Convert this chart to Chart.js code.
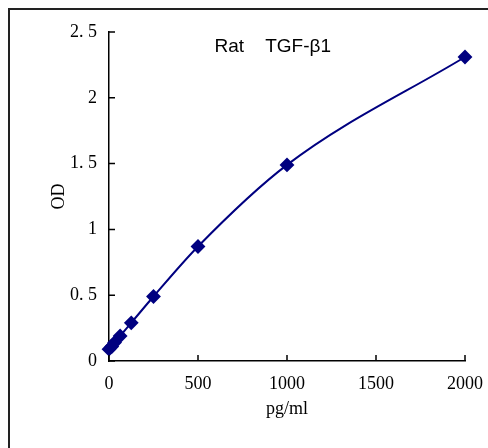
<!DOCTYPE html>
<html><head><meta charset="utf-8">
<script src="https://cdn.jsdelivr.net/npm/chart.js@4/dist/chart.umd.min.js"></script>
<style>
html,body{margin:0;padding:0;background:#fff;}
#wrap{position:relative;width:488px;height:448px;}
#frame{position:absolute;left:8px;top:8px;width:500px;height:460px;border-left:2px solid #222;border-top:2px solid #222;box-sizing:border-box;pointer-events:none;}
canvas{position:absolute;left:0;top:0;}
</style></head>
<body><div id="wrap"><canvas id="c" width="488" height="448"></canvas><div id="frame"></div></div>
<script>
const concentrations = [0, 15.6, 31.25, 62.5, 125, 250, 500, 1000, 2000];
const odValues = [0.09, 0.11, 0.14, 0.19, 0.29, 0.49, 0.87, 1.49, 2.31];
const yTickLabels = ["0", "0. 5", "1", "1. 5", "2", "2. 5"];
const xTickLabels = ["0", "500", "1000", "1500", "2000"];
const chartTitle = "Rat    TGF-\u03b21";

const serif = "'Liberation Serif', 'DejaVu Serif', serif";

const inwardTicks = {
  id: 'inwardTicks',
  afterDraw(chart) {
    const ctx = chart.ctx;
    const xs = chart.scales.x, ys = chart.scales.y;
    const L = 6;
    ctx.save();
    ctx.strokeStyle = '#000';
    ctx.lineWidth = 1.5;
    ctx.beginPath();
    xs.ticks.forEach(t => {
      const px = xs.getPixelForValue(t.value);
      ctx.moveTo(px, ys.bottom); ctx.lineTo(px, ys.bottom - L);
    });
    ys.ticks.forEach(t => {
      const py = ys.getPixelForValue(t.value);
      ctx.moveTo(xs.left, py); ctx.lineTo(xs.left + L, py);
    });
    ctx.stroke();
    ctx.fillStyle = '#000';
    ctx.font = "19px 'Liberation Sans', Arial, sans-serif";
    ctx.textAlign = 'center';
    ctx.textBaseline = 'middle';
    ctx.fillText(chartTitle, xs.left + (xs.right - xs.left) * 0.46, ys.top + 15);
    ctx.restore();
  }
};

new Chart(document.getElementById('c'), {
  type: 'line',
  data: {
    datasets: [{
      data: concentrations.map((x, i) => ({x: x, y: odValues[i]})),
      borderColor: '#000080',
      backgroundColor: '#000080',
      borderWidth: 2,
      pointStyle: 'rectRot',
      pointRadius: 6,
      pointHoverRadius: 6,
      cubicInterpolationMode: 'monotone',
      clip: false,
      fill: false
    }]
  },
  options: {
    responsive: false,
    animation: false,
    events: [],
    layout: {padding: {left: 48, top: 32, right: 23, bottom: 28}},
    plugins: {legend: {display: false}, tooltip: {enabled: false}, title: {display: false}},
    scales: {
      x: {
        type: 'linear', min: 0, max: 2000,
        afterBuildTicks: s => { s.ticks = xTickLabels.map(v => ({value: Number(v)})); },
        grid: {display: false, drawTicks: false},
        border: {display: true, color: '#000', width: 1.5},
        ticks: {
          color: '#000', font: {family: serif, size: 18}, padding: 12,
          maxRotation: 0,
          callback: (v, i) => xTickLabels[i]
        },
        title: {display: true, text: 'pg/ml', color: '#000', font: {family: serif, size: 18}, padding: {top: 0, bottom: 0}},
        afterFit: s => { s.height = 59; s.paddingLeft = 0; s.paddingRight = 0; }
      },
      y: {
        type: 'linear', min: 0, max: 2.5,
        afterBuildTicks: s => { s.ticks = yTickLabels.map((v, i) => ({value: i * 0.5})); },
        grid: {display: false, drawTicks: false},
        border: {display: true, color: '#000', width: 1.5},
        ticks: {
          color: '#000', font: {family: serif, size: 18}, padding: 12,
          callback: (v, i) => yTickLabels[i]
        },
        title: {display: true, text: 'OD', color: '#000', font: {family: serif, size: 18}, padding: {top: 0, bottom: 0}},
        afterFit: s => { s.width = 61; s.paddingTop = 0; s.paddingBottom = 0; }
      }
    }
  },
  plugins: [inwardTicks]
});
</script></body></html>
